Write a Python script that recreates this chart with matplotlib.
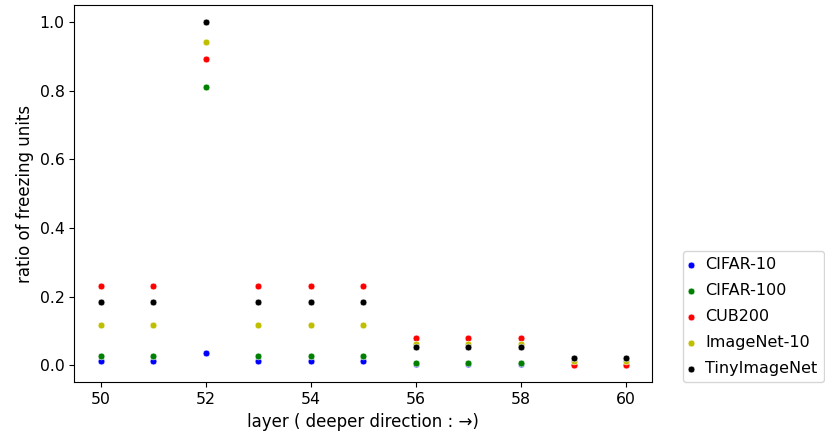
import numpy as np
import matplotlib
matplotlib.use("Agg")
import matplotlib.pyplot as plt

# layer indices
layers = [50, 51, 52, 53, 54, 55, 56, 57, 58, 59, 60]

# ratio of freezing units per dataset
cifar10 = [0.012, 0.012, 0.036, 0.012, 0.012, 0.012, 0.004, 0.004, 0.004, 0.0, 0.0]
cifar100 = [0.027, 0.027, 0.812, 0.027, 0.027, 0.027, 0.005, 0.005, 0.005, 0.0, 0.0]
cub200 = [0.231, 0.231, 0.894, 0.231, 0.231, 0.231, 0.078, 0.078, 0.078, 0.0, 0.0]
imagenet10 = [0.118, 0.118, 0.943, 0.118, 0.118, 0.118, 0.063, 0.063, 0.063, 0.011, 0.011]
tinyimagenet = [0.185, 0.185, 1.0, 0.185, 0.185, 0.185, 0.052, 0.052, 0.052, 0.021, 0.021]

names = ["CIFAR-10", "CIFAR-100", "CUB200", "ImageNet-10", "TinyImageNet"]
series = [cifar10, cifar100, cub200, imagenet10, tinyimagenet]
colors = ["b", "g", "r", "y", "k"]

fig = plt.figure(figsize=(8.25, 4.38), dpi=100)
ax = fig.add_axes([0.0901, 0.1272, 0.7006, 0.8614])

for name, vals, c in zip(names, series, colors):
    ax.scatter(layers, vals, s=24, c=c, edgecolors="white", linewidths=0.4, label=name)

ax.tick_params(labelsize=11.3)
ax.set_xlabel("layer ( deeper direction : \u2192)", fontsize=12)
ax.set_ylabel("ratio of freezing units", fontsize=12)
ax.legend(loc="lower left", bbox_to_anchor=(1.053, 0), borderaxespad=0,
          fontsize=11.5, handlelength=0.2, handletextpad=0.8, labelspacing=0.68)

fig.savefig("out.png", dpi=100)
